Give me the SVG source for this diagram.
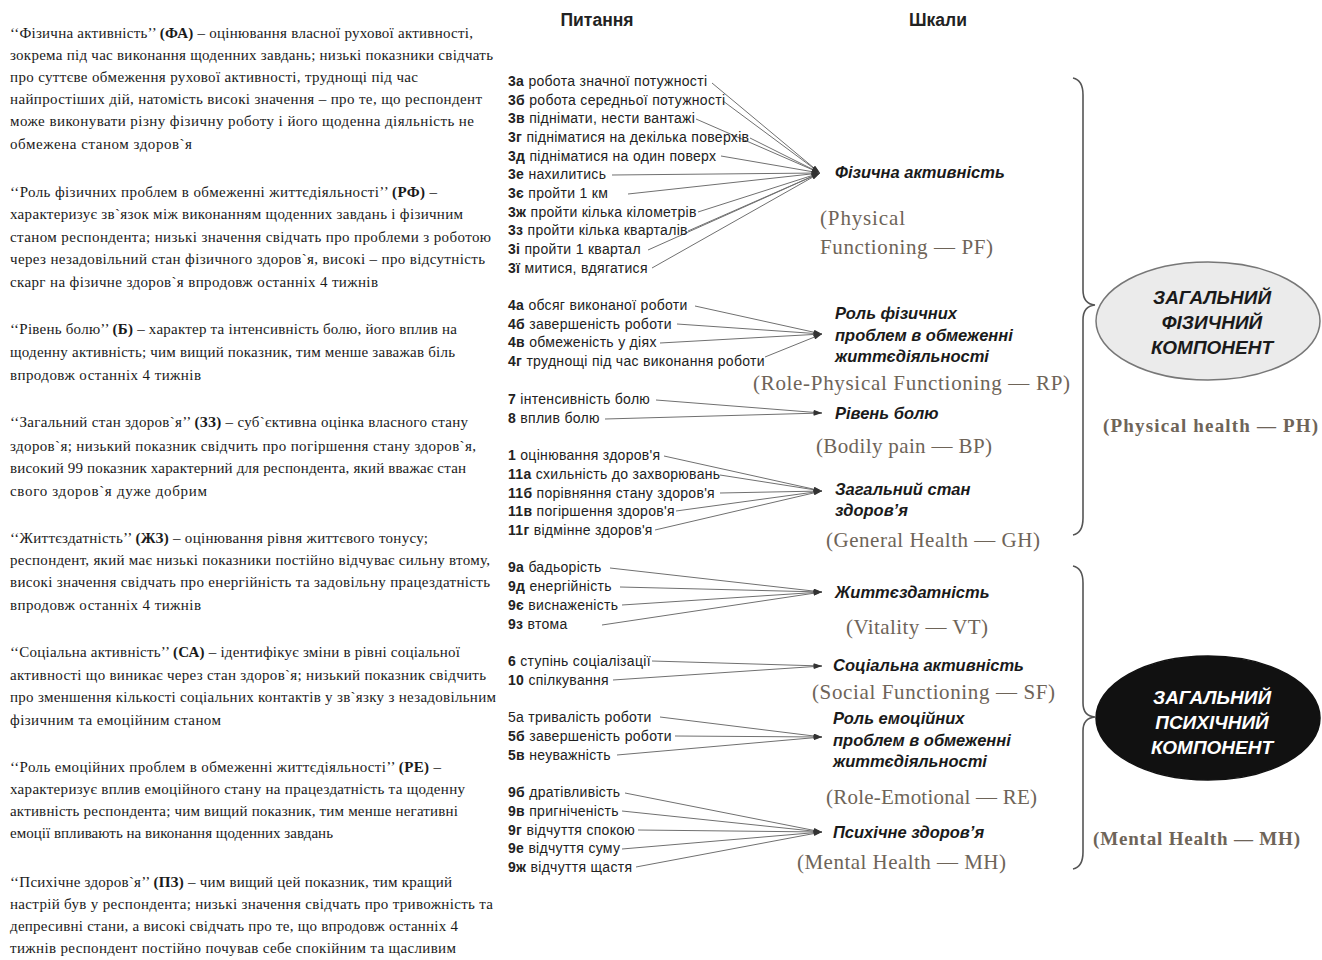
<svg xmlns="http://www.w3.org/2000/svg" width="1322" height="960" viewBox="0 0 1322 960">
<defs>
<style>
.d{font-family:"Liberation Serif","DejaVu Serif",serif;font-size:15px;fill:#1a1a1a}
.d .b{font-weight:bold}
.h{font-family:"Liberation Sans",Arial,sans-serif;font-size:17.5px;font-weight:bold;fill:#222;text-anchor:middle}
.it{font-family:"Liberation Sans",Arial,sans-serif;font-size:14px;letter-spacing:0.3px;fill:#222}
.it .b{font-weight:bold}
.sc{font-family:"Liberation Sans",Arial,sans-serif;font-size:16.5px;font-weight:bold;font-style:italic;fill:#1a1a1a}
.en{font-family:"Liberation Serif","DejaVu Serif",serif;font-size:21px;fill:#6e6458}
.enb{font-family:"Liberation Serif","DejaVu Serif",serif;font-size:19px;font-weight:bold;fill:#6e6458}
.ct{font-family:"Liberation Sans",Arial,sans-serif;font-size:19px;font-weight:bold;font-style:italic;text-anchor:middle}
.cn line{stroke:#707070;stroke-width:1;marker-end:url(#ah)}
.br{fill:none;stroke:#555;stroke-width:1.6}
</style>
<marker id="ah" viewBox="0 0 10 6" refX="10" refY="3" markerWidth="9" markerHeight="5" markerUnits="userSpaceOnUse" orient="auto">
<path d="M0,0 L10,3 L0,6 z" fill="#333"/>
</marker>
</defs>
<rect width="1322" height="960" fill="#ffffff"/>

<g id="descriptions" class="d">
<text x="10" y="38" textLength="463"><tspan>‘‘Фізична активність’’ </tspan><tspan class="b">(ФА)</tspan><tspan> – оцінювання власної рухової активності,</tspan></text>
<text x="10" y="60" textLength="483">зокрема під час виконання щоденних завдань; низькі показники свідчать</text>
<text x="10" y="82" textLength="408">про суттєве обмеження рухової активності, труднощі під час</text>
<text x="10" y="104" textLength="472">найпростіших дій, натомість високі значення – про те, що респондент</text>
<text x="10" y="126" textLength="464">може виконувати різну фізичну роботу і його щоденна діяльність не</text>
<text x="10" y="149" textLength="182">обмежена станом здоров`я</text>

<text x="10" y="197" textLength="427"><tspan>‘‘Роль фізичних проблем в обмеженні життєдіяльності’’ </tspan><tspan class="b">(РФ)</tspan><tspan> –</tspan></text>
<text x="10" y="219" textLength="453">характеризує зв`язок між виконанням щоденних завдань і фізичним</text>
<text x="10" y="242" textLength="481">станом респондента; низькі значення свідчать про проблеми з роботою</text>
<text x="10" y="264" textLength="475">через незадовільний стан фізичного здоров`я, високі – про відсутність</text>
<text x="10" y="287" textLength="368">скарг на фізичне здоров`я впродовж останніх 4 тижнів</text>

<text x="10" y="334" textLength="447"><tspan>‘‘Рівень болю’’ </tspan><tspan class="b">(Б)</tspan><tspan> – характер та інтенсивність болю, його вплив на</tspan></text>
<text x="10" y="357" textLength="445">щоденну активність; чим вищий показник, тим менше заважав біль</text>
<text x="10" y="380" textLength="191">впродовж останніх 4 тижнів</text>

<text x="10" y="427" textLength="458"><tspan>‘‘Загальний стан здоров`я’’ </tspan><tspan class="b">(ЗЗ)</tspan><tspan> – суб`єктивна оцінка власного стану</tspan></text>
<text x="10" y="451" textLength="466">здоров`я; низький показник свідчить про погіршення стану здоров`я,</text>
<text x="10" y="473" textLength="456">високий 99 показник характерний для респондента, який вважає стан</text>
<text x="10" y="496" textLength="197">свого здоров`я дуже добрим</text>

<text x="10" y="543" textLength="418"><tspan>‘‘Життєздатність’’ </tspan><tspan class="b">(ЖЗ)</tspan><tspan> – оцінювання рівня життєвого тонусу;</tspan></text>
<text x="10" y="565" textLength="480">респондент, який має низькі показники постійно відчуває сильну втому,</text>
<text x="10" y="587" textLength="480">високі значення свідчать про енергійність та задовільну працездатність</text>
<text x="10" y="610" textLength="191">впродовж останніх 4 тижнів</text>

<text x="10" y="657" textLength="450"><tspan>‘‘Соціальна активність’’ </tspan><tspan class="b">(СА)</tspan><tspan> – ідентифікує зміни в рівні соціальної</tspan></text>
<text x="10" y="680" textLength="476">активності що виникає через стан здоров`я; низький показник свідчить</text>
<text x="10" y="702" textLength="486">про зменшення кількості соціальних контактів у зв`язку з незадовільним</text>
<text x="10" y="725" textLength="211">фізичним та емоційним станом</text>

<text x="10" y="772" textLength="431"><tspan>‘‘Роль емоційних проблем в обмеженні життєдіяльності’’ </tspan><tspan class="b">(РЕ)</tspan><tspan> –</tspan></text>
<text x="10" y="794" textLength="455">характеризує вплив емоційного стану на працездатність та щоденну</text>
<text x="10" y="816" textLength="448">активність респондента; чим вищий показник, тим менше негативні</text>
<text x="10" y="838" textLength="323">емоції впливають на виконання щоденних завдань</text>

<text x="10" y="887" textLength="442"><tspan>‘‘Психічне здоров`я’’ </tspan><tspan class="b">(ПЗ)</tspan><tspan> – чим вищий цей показник, тим кращий</tspan></text>
<text x="10" y="909" textLength="483">настрій був у респондента; низькі значення свідчать про тривожність та</text>
<text x="10" y="931" textLength="448">депресивні стани, а високі свідчать про те, що впродовж останніх 4</text>
<text x="10" y="953" textLength="446">тижнів респондент постійно почував себе спокійним та щасливим</text>
</g>

<g id="headers">
<text class="h" x="597" y="26">Питання</text>
<text class="h" x="938" y="26">Шкали</text>
</g>

<g id="connectors" class="cn">
<line x1="712" y1="83" x2="820" y2="173"/>
<line x1="723" y1="101" x2="820" y2="173"/>
<line x1="696" y1="119" x2="820" y2="173"/>
<line x1="750" y1="138" x2="820" y2="173"/>
<line x1="721" y1="156" x2="820" y2="173"/>
<line x1="612" y1="175" x2="820" y2="173"/>
<line x1="628" y1="194" x2="820" y2="173"/>
<line x1="698" y1="212" x2="820" y2="173"/>
<line x1="688" y1="231" x2="820" y2="173"/>
<line x1="648" y1="250" x2="820" y2="173"/>
<line x1="652" y1="268" x2="820" y2="173"/>

<line x1="695" y1="306" x2="822" y2="334"/>
<line x1="677" y1="324" x2="822" y2="334"/>
<line x1="660" y1="343" x2="822" y2="334"/>
<line x1="765" y1="357" x2="822" y2="334"/>

<line x1="656" y1="400" x2="822" y2="413"/>
<line x1="605" y1="419" x2="822" y2="413"/>

<line x1="664" y1="456" x2="822" y2="491"/>
<line x1="720" y1="475" x2="822" y2="491"/>
<line x1="720" y1="493" x2="822" y2="491"/>
<line x1="676" y1="511" x2="822" y2="491"/>
<line x1="655" y1="530" x2="822" y2="491"/>

<line x1="610" y1="568" x2="822" y2="592"/>
<line x1="620" y1="587" x2="822" y2="592"/>
<line x1="622" y1="605" x2="822" y2="592"/>
<line x1="602" y1="625" x2="822" y2="592"/>

<line x1="652" y1="661" x2="822" y2="666"/>
<line x1="613" y1="680" x2="822" y2="666"/>

<line x1="660" y1="717" x2="822" y2="737"/>
<line x1="675" y1="736" x2="822" y2="737"/>
<line x1="617" y1="755" x2="822" y2="737"/>

<line x1="625" y1="793" x2="822" y2="832"/>
<line x1="622" y1="811" x2="822" y2="832"/>
<line x1="638" y1="830" x2="822" y2="832"/>
<line x1="622" y1="849" x2="822" y2="832"/>
<line x1="636" y1="867" x2="822" y2="832"/>
</g>

<g id="items-pf" class="it">
<text x="508" y="86"><tspan class="b">3а</tspan> робота значної потужності</text>
<text x="508" y="105"><tspan class="b">3б</tspan> робота середньої потужності</text>
<text x="508" y="123"><tspan class="b">3в</tspan> піднімати, нести вантажі</text>
<text x="508" y="142"><tspan class="b">3г</tspan> підніматися на декілька поверхів</text>
<text x="508" y="161"><tspan class="b">3д</tspan> підніматися на один поверх</text>
<text x="508" y="179"><tspan class="b">3е</tspan> нахилитись</text>
<text x="508" y="198"><tspan class="b">3є</tspan> пройти 1 км</text>
<text x="508" y="217"><tspan class="b">3ж</tspan> пройти кілька кілометрів</text>
<text x="508" y="235"><tspan class="b">3з</tspan> пройти кілька кварталів</text>
<text x="508" y="254"><tspan class="b">3і</tspan> пройти 1 квартал</text>
<text x="508" y="273"><tspan class="b">3ї</tspan> митися, вдягатися</text>
</g>
<g id="items-rp" class="it">
<text x="508" y="310"><tspan class="b">4а</tspan> обсяг виконаної роботи</text>
<text x="508" y="329"><tspan class="b">4б</tspan> завершеність роботи</text>
<text x="508" y="347"><tspan class="b">4в</tspan> обмеженість у діях</text>
<text x="508" y="366"><tspan class="b">4г</tspan> труднощі під час виконання роботи</text>
</g>
<g id="items-bp" class="it">
<text x="508" y="404"><tspan class="b">7</tspan> інтенсивність болю</text>
<text x="508" y="423"><tspan class="b">8</tspan> вплив болю</text>
</g>
<g id="items-gh" class="it">
<text x="508" y="460"><tspan class="b">1</tspan> оцінювання здоров'я</text>
<text x="508" y="479"><tspan class="b">11а</tspan> схильність до захворювань</text>
<text x="508" y="498"><tspan class="b">11б</tspan> порівняння стану здоров'я</text>
<text x="508" y="516"><tspan class="b">11в</tspan> погіршення здоров'я</text>
<text x="508" y="535"><tspan class="b">11г</tspan> відмінне здоров'я</text>
</g>
<g id="items-vt" class="it">
<text x="508" y="572"><tspan class="b">9а</tspan> бадьорість</text>
<text x="508" y="591"><tspan class="b">9д</tspan> енергійність</text>
<text x="508" y="610"><tspan class="b">9є</tspan> виснаженість</text>
<text x="508" y="629"><tspan class="b">9з</tspan> втома</text>
</g>
<g id="items-sf" class="it">
<text x="508" y="666"><tspan class="b">6</tspan> ступінь соціалізації</text>
<text x="508" y="685"><tspan class="b">10</tspan> спілкування</text>
</g>
<g id="items-re" class="it">
<text x="508" y="722">5а тривалість роботи</text>
<text x="508" y="741"><tspan class="b">5б</tspan> завершеність роботи</text>
<text x="508" y="760"><tspan class="b">5в</tspan> неуважність</text>
</g>
<g id="items-mh" class="it">
<text x="508" y="797"><tspan class="b">9б</tspan> дратівливість</text>
<text x="508" y="816"><tspan class="b">9в</tspan> пригніченість</text>
<text x="508" y="835"><tspan class="b">9г</tspan> відчуття спокою</text>
<text x="508" y="853"><tspan class="b">9е</tspan> відчуття суму</text>
<text x="508" y="872"><tspan class="b">9ж</tspan> відчуття щастя</text>
</g>

<g id="scale-pf">
<text class="sc" x="835" y="178">Фізична активність</text>
<text class="en" x="820" y="225" textLength="85">(Physical</text>
<text class="en" x="820" y="254" textLength="173">Functioning — PF)</text>
</g>
<g id="scale-rp">
<text class="sc" x="835" y="319">Роль фізичних</text>
<text class="sc" x="835" y="341">проблем в обмеженні</text>
<text class="sc" x="835" y="362">життєдіяльності</text>
<text class="en" x="753" y="390" textLength="317">(Role-Physical Functioning — RP)</text>
</g>
<g id="scale-bp">
<text class="sc" x="835" y="419">Рівень болю</text>
<text class="en" x="816" y="453" textLength="176">(Bodily pain — BP)</text>
</g>
<g id="scale-gh">
<text class="sc" x="835" y="495">Загальний стан</text>
<text class="sc" x="835" y="516">здоров’я</text>
<text class="en" x="826" y="547" textLength="214">(General Health — GH)</text>
</g>
<g id="scale-vt">
<text class="sc" x="835" y="598">Життєздатність</text>
<text class="en" x="846" y="634" textLength="142">(Vitality — VT)</text>
</g>
<g id="scale-sf">
<text class="sc" x="833" y="671">Соціальна активність</text>
<text class="en" x="812" y="699" textLength="243">(Social Functioning — SF)</text>
</g>
<g id="scale-re">
<text class="sc" x="833" y="724">Роль емоційних</text>
<text class="sc" x="833" y="746">проблем в обмеженні</text>
<text class="sc" x="833" y="767">життєдіяльності</text>
<text class="en" x="826" y="804" textLength="211">(Role-Emotional — RE)</text>
</g>
<g id="scale-mh">
<text class="sc" x="833" y="838">Психічне здоров’я</text>
<text class="en" x="797" y="869" textLength="209">(Mental Health — MH)</text>
</g>

<g id="braces">
<path class="br" d="M1073,78 Q1083,80 1083,95 L1083,290 Q1083,304 1095,305 Q1083,306 1083,320 L1083,518 Q1083,533 1073,535"/>
<path class="br" d="M1073,566 Q1083,568 1083,583 L1083,703 Q1083,716 1095,717 Q1083,718 1083,731 L1083,852 Q1083,867 1073,869"/>
</g>

<g id="physical-component">
<ellipse cx="1208" cy="321" rx="112" ry="59" fill="#ebebeb" stroke="#777" stroke-width="1.5"/>
<text class="ct" x="1212" y="304" fill="#1a1a1a">ЗАГАЛЬНИЙ</text>
<text class="ct" x="1212" y="329" fill="#1a1a1a">ФІЗИЧНИЙ</text>
<text class="ct" x="1212" y="354" fill="#1a1a1a">КОМПОНЕНТ</text>
<text class="enb" x="1103" y="432" textLength="215">(Physical health — PH)</text>
</g>

<g id="mental-component">
<ellipse cx="1208" cy="718" rx="112" ry="62" fill="#111" stroke="#111" stroke-width="1.5"/>
<text class="ct" x="1212" y="704" fill="#ffffff">ЗАГАЛЬНИЙ</text>
<text class="ct" x="1212" y="729" fill="#ffffff">ПСИХІЧНИЙ</text>
<text class="ct" x="1212" y="754" fill="#ffffff">КОМПОНЕНТ</text>
<text class="enb" x="1093" y="845" textLength="207">(Mental Health — MH)</text>
</g>
</svg>
